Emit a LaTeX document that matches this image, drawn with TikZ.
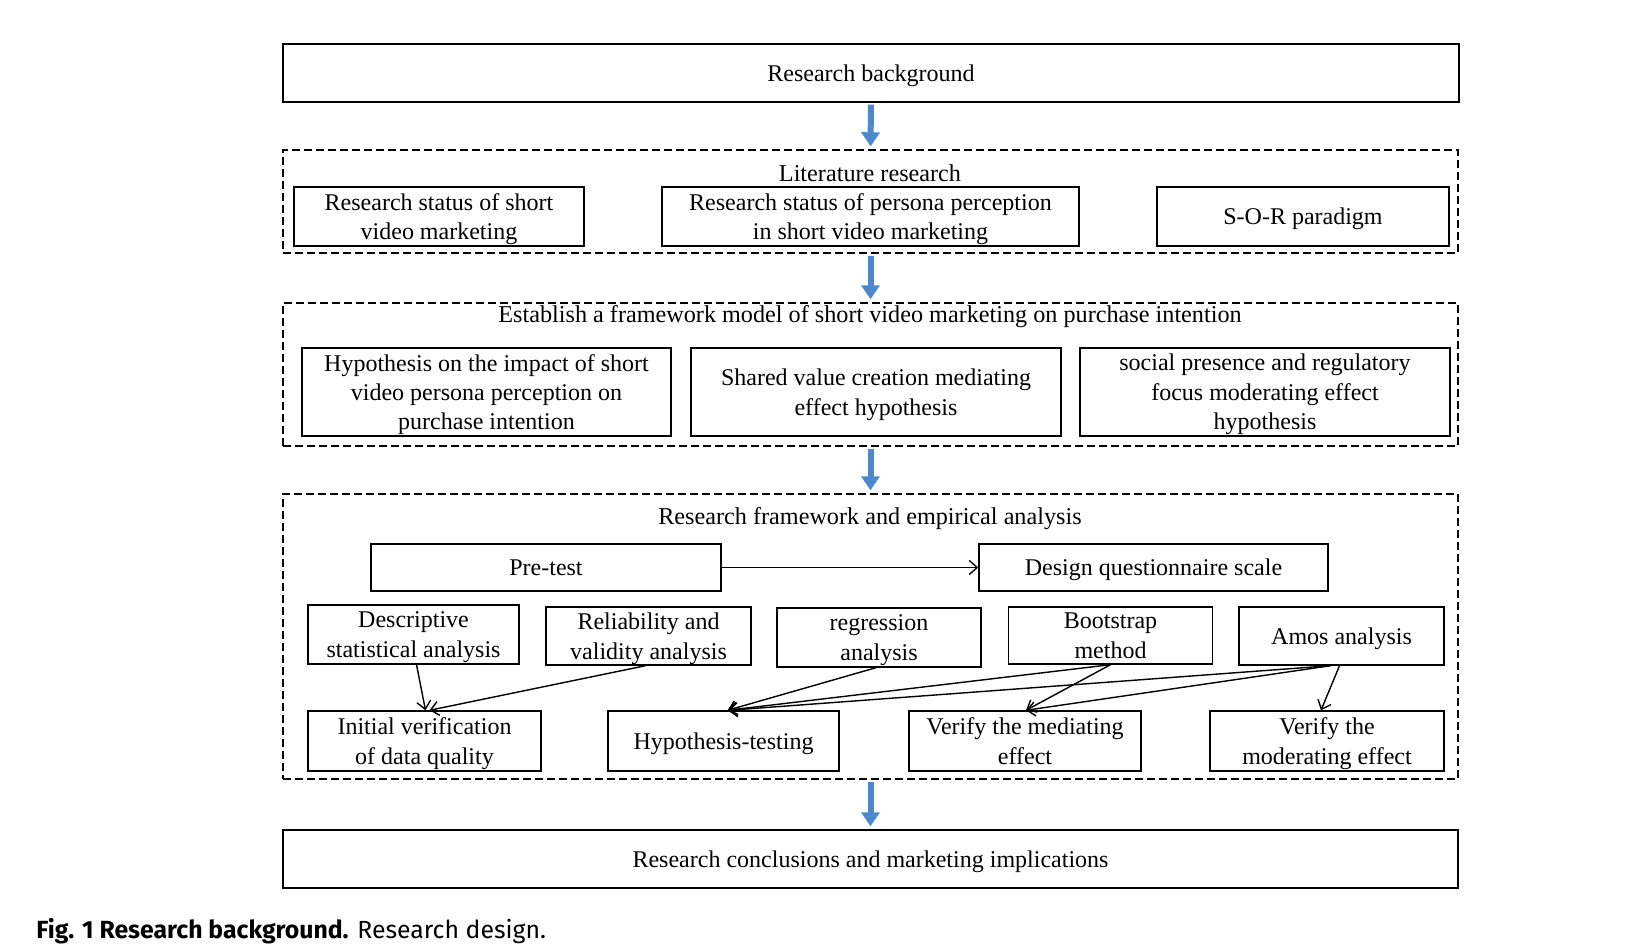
\documentclass[tikz,border=0pt]{standalone}
\usepackage{fontspec}
\setmainfont{Liberation Serif}
\newfontfamily\capfont{Fira Sans}
\usetikzlibrary{arrows.meta}
\definecolor{arrowblue}{RGB}{76,136,204}
\tikzset{
  box/.style={draw, line width=0.7pt, align=center, inner sep=0pt, text depth=0pt, font=\fontsize{12}{14.7}\selectfont},
  dbox/.style={draw, line width=0.7pt, dash pattern=on 4pt off 2pt, inner sep=0pt},
  ttl/.style={align=center, inner sep=0pt, font=\fontsize{12.1}{14.7}\selectfont},
  barrow/.style={line width=3pt, draw=arrowblue, -{Triangle[length=7pt,width=9pt]}, shorten <=1pt, shorten >=1.5pt},
  thin/.style={line width=0.7pt, -{Straight Barb[length=4pt,width=7pt]}}
}
\begin{document}
\begin{tikzpicture}[x=0.5pt,y=-0.5pt]
\useasboundingbox (0,0) rectangle (1645,951);
% top
\node[box, minimum width=588pt, minimum height=29pt] (top) at (871,73) {Research background};
% literature
\node[dbox, minimum width=587.5pt, minimum height=51.5pt] (lit) at (870.5,201.5) {};
\node[ttl] (litt) at (870,173) {Literature research};
\node[box, minimum width=145pt, minimum height=29.5pt] (a1) at (439,216.5) {Research status of short\\video marketing};
\node[box, minimum width=208.5pt, minimum height=29.5pt] (a2) at (870.5,216.5) {Research status of persona perception\\in short video marketing};
\node[box, minimum width=146pt, minimum height=29.5pt] (a3) at (1303,216.5) {S-O-R paradigm};
% framework
\node[dbox, minimum width=587.5pt, minimum height=71.5pt] (fw) at (870.5,374.5) {};
\node[ttl] (fwt) at (870,317) {Establish a framework model of short video marketing on purchase intention};
\node[box, minimum width=184.5pt, minimum height=44pt] (b1) at (486.5,392) {Hypothesis on the impact of short\\video persona perception on\\purchase intention};
\node[box, minimum width=185pt, minimum height=44pt] (b2) at (876,392) {Shared value creation mediating\\effect hypothesis};
\node[box, minimum width=185pt, minimum height=44pt] (b3) at (1265,392) {social presence and regulatory\\focus moderating effect\\hypothesis};
% empirical
\node[dbox, minimum width=587.5pt, minimum height=142.5pt] (emp) at (870.5,636.5) {};
\node[ttl] (empt) at (870,519) {Research framework and empirical analysis};
\node[box, minimum width=175pt, minimum height=23.5pt] (pre) at (546,567.5) {Pre-test};
\node[box, minimum width=174.5pt, minimum height=23.5pt] (des) at (1153.5,567.5) {Design questionnaire scale};
\node[box, minimum width=105.5pt, minimum height=29.5pt] (c1) at (413.5,634.5) {Descriptive\\statistical analysis};
\node[box, minimum width=102.5pt, minimum height=29pt] (c2) at (648.5,636) {Reliability and\\validity analysis};
\node[box, minimum width=102pt, minimum height=29.5pt] (c3) at (879,637.5) {regression\\analysis};
\node[box, minimum width=102pt, minimum height=28.5pt] (c4) at (1110.5,635.5) {Bootstrap\\method};
\node[box, minimum width=102.5pt, minimum height=29pt] (c5) at (1341.5,636) {Amos analysis};
\node[box, minimum width=116.5pt, minimum height=30pt] (d1) at (424.5,741) {Initial verification\\of data quality};
\node[box, minimum width=115.5pt, minimum height=30pt] (d2) at (723.5,741) {Hypothesis-testing};
\node[box, minimum width=116pt, minimum height=30pt] (d3) at (1025,741) {Verify the mediating\\effect};
\node[box, minimum width=117pt, minimum height=30pt] (d4) at (1327,741) {Verify the\\moderating effect};
% bottom
\node[box, minimum width=587.5pt, minimum height=29pt] (bot) at (870.5,859) {Research conclusions and marketing implications};
% caption
\node[anchor=base west, inner sep=0pt, font=\capfont\fontsize{12.4}{14}\selectfont] (cap) at (36,938) {\textbf{Fig. 1 Research background.} Research design.};
% blue arrows
\draw[barrow] (top.south) -- (lit.north);
\draw[barrow] (lit.south) -- (fw.north);
\draw[barrow] (fw.south) -- (emp.north);
\draw[barrow] (emp.south) -- (bot.north);
% thin arrows
\draw[thin] (pre.east) -- (des.west);
\draw[thin] ([xshift=1.5pt]c1.south) -- ([xshift=0.5pt]d1.north);
\draw[thin] ([xshift=-1.5pt]c2.south) -- ([xshift=2.5pt]d1.north);
\draw[thin] ([xshift=-1.5pt]c3.south) -- ([xshift=2pt]d2.north);
\draw[thin] (c4.south) -- ([xshift=2pt]d2.north);
\draw[thin] (c4.south) -- ([xshift=0.5pt]d3.north);
\draw[thin] ([xshift=-5.5pt]c5.south) -- ([xshift=2.5pt]d2.north);
\draw[thin] ([xshift=-5.5pt]c5.south) -- ([xshift=0.5pt]d3.north);
\draw[thin] ([xshift=-1pt]c5.south) -- ([xshift=-3pt]d4.north);
\end{tikzpicture}
\end{document}
